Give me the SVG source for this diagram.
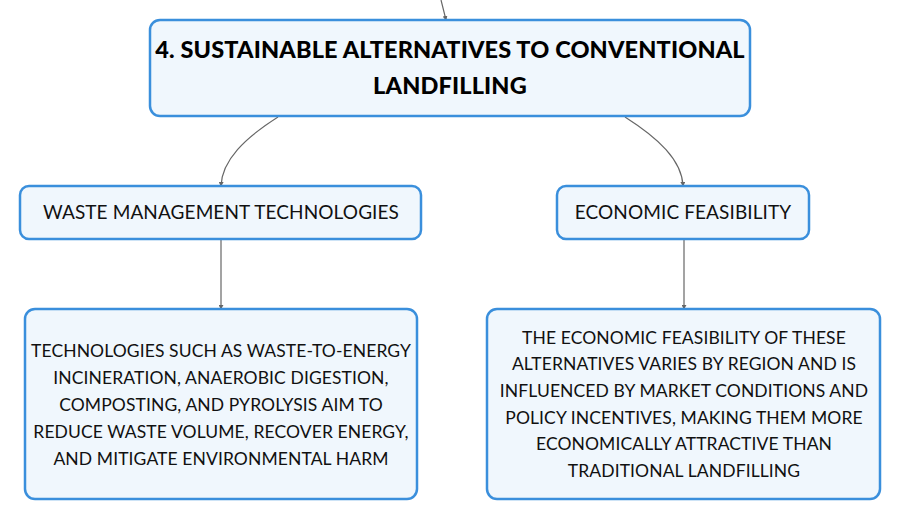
<svg xmlns="http://www.w3.org/2000/svg" width="901" height="521" viewBox="0 0 901 521">
<defs>
<style>
.box{fill:#f0f7fd;stroke:#3a8fdc;stroke-width:2.5}
.t{font-family:Lato,"Noto Sans",sans-serif;fill:#111;text-anchor:middle}
.title{font-size:23.5px;font-weight:900;letter-spacing:0.15px;fill:#000}
.sub{font-size:19px;letter-spacing:0.1px}
.leaf{font-size:17.5px;letter-spacing:0.1px}
.c{fill:none;stroke:#666;stroke-width:1.2;marker-end:url(#a)}
</style>
<marker id="a" viewBox="0 0 6 6" refX="5" refY="3" markerWidth="5" markerHeight="5" orient="auto" markerUnits="userSpaceOnUse">
<path d="M0,0 L6,3 L0,6 z" fill="#666"/>
</marker>
</defs>
<rect width="901" height="521" fill="#fff"/>
<g id="connectors">
<path class="c" d="M441,0 L446,20"/>
<path class="c" d="M278,117 C245,138 222,160 221,186"/>
<path class="c" d="M625,117 C658,138 682,160 683,186"/>
<path class="c" d="M221,240 L221,309"/>
<path class="c" d="M684,240 L684,309"/>
</g>
<g id="main">
<rect class="box" x="150" y="20" width="600" height="96" rx="10"/>
<text class="t title" x="450" y="58">4. SUSTAINABLE ALTERNATIVES TO CONVENTIONAL</text>
<text class="t title" x="450" y="94">LANDFILLING</text>
</g>
<g id="tech">
<rect class="box" x="20" y="186" width="401" height="53" rx="9"/>
<text class="t sub" x="221" y="219">WASTE MANAGEMENT TECHNOLOGIES</text>
</g>
<g id="econ">
<rect class="box" x="557" y="186" width="252" height="53" rx="9"/>
<text class="t sub" x="683" y="219">ECONOMIC FEASIBILITY</text>
</g>
<g id="tech-detail">
<rect class="box" x="25" y="309" width="392" height="190" rx="10"/>
<text class="t leaf" x="221" y="357">TECHNOLOGIES SUCH AS WASTE-TO-ENERGY</text>
<text class="t leaf" x="221" y="384">INCINERATION, ANAEROBIC DIGESTION,</text>
<text class="t leaf" x="221" y="411">COMPOSTING, AND PYROLYSIS AIM TO</text>
<text class="t leaf" x="221" y="438">REDUCE WASTE VOLUME, RECOVER ENERGY,</text>
<text class="t leaf" x="221" y="465">AND MITIGATE ENVIRONMENTAL HARM</text>
</g>
<g id="econ-detail">
<rect class="box" x="487" y="309" width="393" height="190" rx="10"/>
<text class="t leaf" x="684" y="344">THE ECONOMIC FEASIBILITY OF THESE</text>
<text class="t leaf" x="684" y="370">ALTERNATIVES VARIES BY REGION AND IS</text>
<text class="t leaf" x="684" y="397">INFLUENCED BY MARKET CONDITIONS AND</text>
<text class="t leaf" x="684" y="424">POLICY INCENTIVES, MAKING THEM MORE</text>
<text class="t leaf" x="684" y="450">ECONOMICALLY ATTRACTIVE THAN</text>
<text class="t leaf" x="684" y="477">TRADITIONAL LANDFILLING</text>
</g>
</svg>
